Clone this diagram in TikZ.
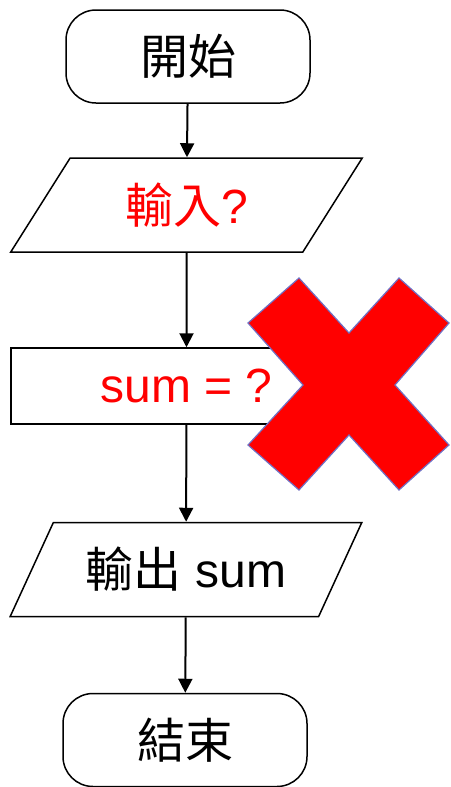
\documentclass[tikz,border=0pt]{standalone}
\usepackage{fontspec}
\setmainfont{Liberation Sans}
\newfontfamily\cjk{Noto Sans CJK TC}
\usetikzlibrary{arrows.meta,shapes.geometric}
\definecolor{crossedge}{RGB}{112,112,196}

\begin{document}
\begin{tikzpicture}[
  x=0.5pt, y=-0.5pt,
  every node/.style={font=\fontsize{24pt}{28pt}\selectfont, line width=0.75pt},
  terminal/.style={rectangle, draw, rounded corners=15pt, minimum width=122pt,
                   minimum height=46.5pt},
  io/.style={trapezium, draw, trapezium left angle=59, trapezium right angle=121,
             trapezium stretches=true, minimum width=176pt, minimum height=47pt},
  procbox/.style={rectangle, draw, minimum width=175.5pt, minimum height=38pt},
  flow/.style={-{Triangle[width=7pt,length=7pt]}, line width=1pt},
]
  \useasboundingbox (0,0) rectangle (450,787);
  \node[terminal] (start) at (188,56.5) {{\cjk 開始}};
  \node[io] (input) at (186.5,205) {\textcolor{red}{{\cjk 輸入}?}};
  \node[procbox] (calc) at (186.5,386) {\textcolor{red}{sum = ?}};
  \node[io] (output) at (186,569.5) {{\cjk 輸出} sum};
  \node[terminal] (stop) at (185,740) {{\cjk 結束}};

  \draw[flow] (start) -- (input);
  \draw[flow] (input) -- (calc);
  \draw[flow] (calc) -- (output);
  \draw[flow] (output) -- (stop);

  % big red cross over the process box
  \draw[fill=red, draw=crossedge, line width=0.6pt]
    (299,278) -- (349,333) -- (399,278) -- (449,323) -- (395,385) -- (449,445)
    -- (399,490) -- (349,435) -- (299,490) -- (248,445) -- (303,385) -- (248,323)
    -- cycle;
\end{tikzpicture}
\end{document}
